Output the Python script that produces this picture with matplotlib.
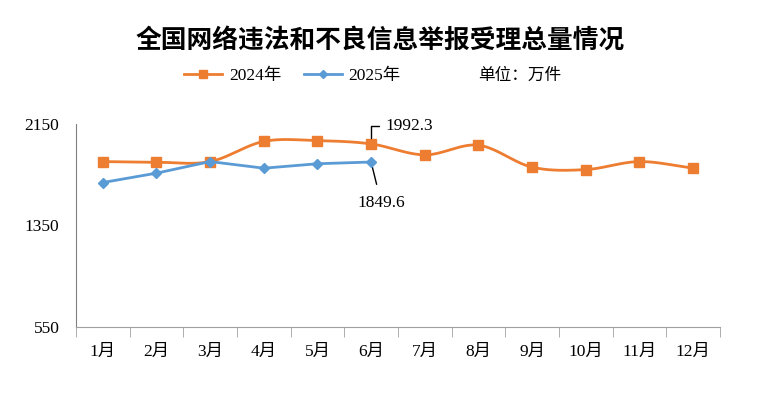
import numpy as np
import matplotlib
matplotlib.use('Agg')
import matplotlib.pyplot as plt

plt.rcParams['font.family'] = ['Liberation Serif', 'Noto Sans CJK SC']

# 数据（万件）
months = ['1月', '2月', '3月', '4月', '5月', '6月', '7月', '8月', '9月', '10月', '11月', '12月']
v2024 = [1853, 1848, 1853, 2012, 2018, 1992.3, 1906, 1982, 1809, 1790, 1853, 1801]
v2025 = [1688, 1762, 1853, 1801, 1836, 1849.6]
yticks = [550, 1350, 2150]

c24 = '#ED7D31'
c25 = '#5B9BD5'


def smooth(xs, ys, n=20):
    # Catmull-Rom 平滑线（类似 Excel 的平滑线）
    xs = np.asarray(xs, float)
    ys = np.asarray(ys, float)
    px = np.concatenate([[2 * xs[0] - xs[1]], xs, [2 * xs[-1] - xs[-2]]])
    py = np.concatenate([[2 * ys[0] - ys[1]], ys, [2 * ys[-1] - ys[-2]]])
    ox, oy = [], []
    for i in range(1, len(px) - 2):
        t = np.linspace(0, 1, n, endpoint=False)
        for p, o in ((px, ox), (py, oy)):
            p0, p1, p2, p3 = p[i - 1], p[i], p[i + 1], p[i + 2]
            o.extend(0.5 * (2 * p1 + (-p0 + p2) * t + (2 * p0 - 5 * p1 + 4 * p2 - p3) * t ** 2
                            + (-p0 + 3 * p1 - 3 * p2 + p3) * t ** 3))
    ox.append(xs[-1])
    oy.append(ys[-1])
    return ox, oy


fig = plt.figure(figsize=(7.61, 3.99), dpi=100)
ax = fig.add_axes([0.0999, 0.1805, 0.846, 0.509])

x24 = np.arange(len(v2024))
x25 = np.arange(len(v2025))

sx, sy = smooth(x24, v2024)
ax.plot(sx, sy, color=c24, lw=2, zorder=2)
ax.plot(x24, v2024, ls='none', marker='s', ms=7, color=c24, zorder=3)
ax.plot(x25, v2025, color=c25, lw=2, marker='D', ms=5, zorder=4)

# 标注
ax.annotate('1992.3', xy=(x24[5], v2024[5]), xytext=(x24[5] + 0.26, 2135),
            fontsize=12.5, va='center', ha='left', annotation_clip=False,
            arrowprops=dict(arrowstyle='-', color='black', lw=1,
                            connectionstyle='angle,angleA=0,angleB=90,rad=0',
                            shrinkA=2, shrinkB=4))
ax.annotate('1849.6', xy=(x25[5], v2025[5]), xytext=(x25[5] + 0.19, 1525),
            fontsize=12.5, va='center', ha='center',
            arrowprops=dict(arrowstyle='-', color='black', lw=1,
                            shrinkA=6, shrinkB=2))

ax.set_xlim(-0.5, len(months) - 0.5)
ax.set_ylim(yticks[0], yticks[-1])
ax.set_yticks(yticks)
ax.set_yticklabels([str(v) for v in yticks], fontsize=12.5)
ax.tick_params(axis='y', length=0, pad=12)
ax.set_xticks(x24)
ax.set_xticklabels(months, fontsize=12.5)
ax.tick_params(axis='x', which='major', length=0, pad=12)
ax.set_xticks(np.arange(-0.5, len(months)), minor=True)
ax.tick_params(axis='x', which='minor', length=7, color='#A0A0A0', direction='out')

for s in ['top', 'right']:
    ax.spines[s].set_visible(False)
ax.spines['left'].set_color('#808080')
ax.spines['bottom'].set_color('#A0A0A0')

# 标题和图例
fig.text(0.5, 0.9, '全国网络违法和不良信息举报受理总量情况', ha='center', va='center',
         fontsize=18.5, fontweight='bold', family=['Noto Sans CJK SC'])
h1, = ax.plot([], [], color=c24, lw=2, marker='s', ms=6)
h2, = ax.plot([], [], color=c25, lw=2, marker='D', ms=4)
fig.legend([h1, h2], ['2024年', '2025年'], loc='center', bbox_to_anchor=(0.384, 0.81),
           ncol=2, frameon=False, handlelength=2.2, columnspacing=1.3,
           handletextpad=0.4, prop={'family': ['Liberation Serif', 'Noto Sans CJK SC'], 'size': 12.5})
fig.text(0.628, 0.81, '单位：万件', ha='left', va='center', fontsize=12,
         family=['Noto Sans CJK SC'])

fig.savefig('out.png', dpi=100)
